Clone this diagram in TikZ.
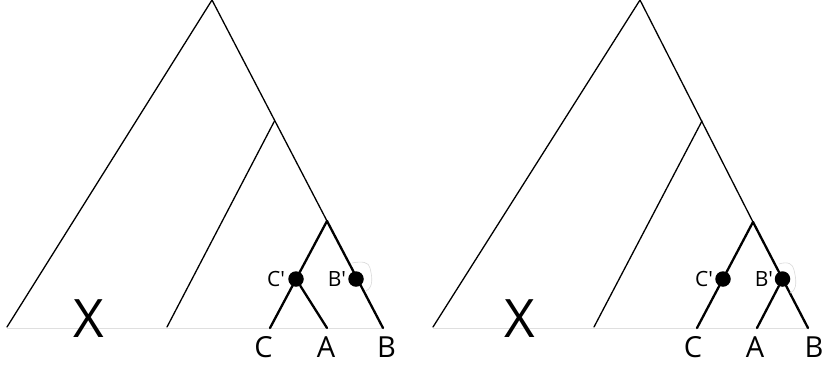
\documentclass[tikz,border=0pt]{standalone}
\usepackage{fontspec}
\setmainfont{Open Sans}
\newfontfamily\primefont{Open Sans}
\begin{document}
\begin{tikzpicture}[x=1pt,y=-1pt,
  thin edge/.style={line width=1.3pt,line cap=round},
  thick edge/.style={line width=2.3pt,line cap=round},
  dot/.style={circle,fill=black,inner sep=0pt,minimum size=15.5pt},
  leaf/.style={inner sep=0pt,font=\fontsize{29}{29}\selectfont},
  prime/.style={inner sep=0pt,font=\primefont\fontsize{21}{21}\selectfont},
  bigx/.style={inner sep=0pt,font=\fontsize{53}{53}\selectfont},
  faint/.style={line width=0.8pt,draw=gray!25},
  blob/.style={line width=0.6pt,draw=gray!30}]
\useasboundingbox (0,0) rectangle (823,368);
% ---------- left tree ----------
\coordinate (LT) at (212,0);
\coordinate (LL) at (7,327);
\coordinate (LB) at (383,328);
\coordinate (LJ) at (274.5,121);
\coordinate (LS) at (167,327);
\coordinate (LN) at (327,221);
\coordinate (LCe) at (270,328);
\coordinate (LAe) at (327,328);
\draw[faint] (7,328) -- (383,328);
\draw[thin edge] (LL) -- (LT) -- (LN);
\draw[thin edge] (LJ) -- (LS);
\draw[thick edge] (LN) -- (LB);
\draw[thick edge] (LN) -- (LCe);
\node[dot] (LCp) at (296,279) {};
\node[dot] (LBp) at (356,279) {};
\draw[thick edge] (LCp) -- (LAe);
\draw[blob] (352,263) .. controls (362,261) and (369,262) .. (370,268) .. controls (372,276) and (374,287) .. (366,291);
\node[prime] (LCpl) at (276,279) {C'};
\node[prime] (LBpl) at (337,279) {B'};
\node[leaf] (LCl) at (263.5,347.5) {C};
\node[leaf] (LAl) at (326,347.5) {A};
\node[leaf] (LBl) at (386.5,347.5) {B};
\node[bigx] (LX) at (89,319) {X};
% ---------- right tree ----------
\coordinate (RT) at (640,0);
\coordinate (RL) at (433,327);
\coordinate (RB) at (808,328);
\coordinate (RJ) at (702,121);
\coordinate (RS) at (594,327);
\coordinate (RN) at (753,222);
\coordinate (RCe) at (697,328);
\coordinate (RAe) at (757,328);
\draw[faint] (433,328) -- (808,328);
\draw[thin edge] (RL) -- (RT) -- (RN);
\draw[thin edge] (RJ) -- (RS);
\draw[thick edge] (RN) -- (RB);
\draw[thick edge] (RN) -- (RCe);
\node[dot] (RCp) at (723,279) {};
\node[dot] (RBp) at (782.5,279) {};
\draw[thick edge] (RBp) -- (RAe);
\draw[blob] (779,264) .. controls (788,261) and (793,264) .. (794,270) .. controls (796,278) and (798,290) .. (790,293);
\node[prime] (RCpl) at (704,279) {C'};
\node[prime] (RBpl) at (764,279) {B'};
\node[leaf] (RCl) at (693,347.5) {C};
\node[leaf] (RAl) at (755,347.5) {A};
\node[leaf] (RBl) at (814,347.5) {B};
\node[bigx] (RX) at (519.5,319) {X};
\end{tikzpicture}
\end{document}
